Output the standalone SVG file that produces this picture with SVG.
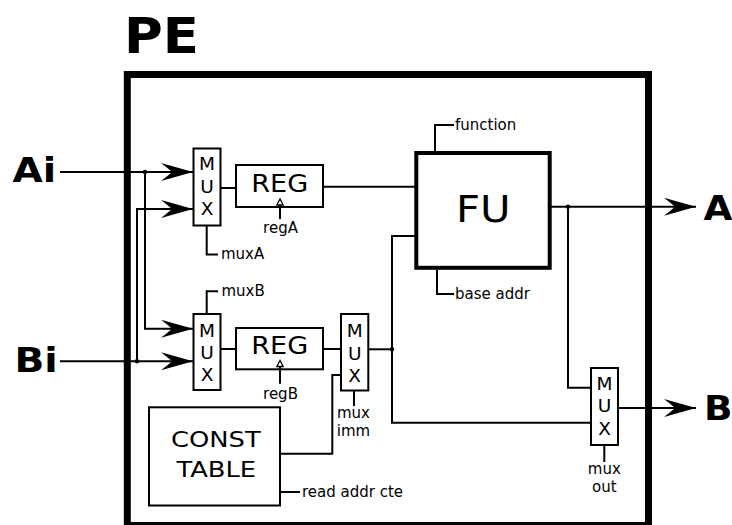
<svg xmlns="http://www.w3.org/2000/svg" width="732" height="525" viewBox="0 0 732 525">
<defs>
<style>
.ln{fill:none;stroke:#000;stroke-width:2}
.bx{fill:#fff;stroke:#000;stroke-width:2}
.t{font-family:"DejaVu Sans","Liberation Sans",sans-serif;fill:#000}
.s{font-size:15px}
.mx{font-size:18.5px;text-anchor:middle}
.big{font-weight:bold;font-size:34px}
.dot{fill:#000}
</style>
<marker id="arr" viewBox="-34 -10 35 20" markerWidth="35" markerHeight="20" refX="0" refY="0" orient="auto" markerUnits="userSpaceOnUse">
<path d="M0,0 L-32,-9 Q-23,-2 -21,0 Q-23,2 -32,9 Z" fill="#000"/>
</marker>
</defs>
<rect width="732" height="525" fill="#fff"/>

<g id="pe-frame">
<text class="t" transform="translate(124,53) scale(1.08,1)" style="font-weight:bold;font-size:49px">PE</text>
<rect x="127.3" y="74.5" width="521.2" height="451" fill="none" stroke="#000" stroke-width="7"/>
</g>

<g id="connectors">
<line class="ln" x1="60" y1="172" x2="193" y2="172" marker-end="url(#arr)"/>
<polyline class="ln" points="145,172 145,328.7 193,328.7" marker-end="url(#arr)"/>
<line class="ln" x1="60" y1="361.3" x2="193" y2="361.3" marker-end="url(#arr)"/>
<polyline class="ln" points="137,361.3 137,209 193,209" marker-end="url(#arr)"/>
<circle class="dot" cx="145" cy="172" r="2.2"/>
<circle class="dot" cx="137" cy="361.3" r="2.2"/>
<line class="ln" x1="220.5" y1="188" x2="236" y2="188"/>
<line class="ln" x1="323" y1="186.7" x2="416" y2="186.7"/>
<line class="ln" x1="220.5" y1="349" x2="236" y2="349"/>
<line class="ln" x1="323" y1="349" x2="341" y2="349"/>
<polyline class="ln" points="280,453.7 332.3,453.7 332.3,375 341,375"/>
<line class="ln" x1="368.3" y1="349.3" x2="392" y2="349.3"/>
<polyline class="ln" points="416,236 392,236 392,422.7 591,422.7"/>
<circle class="dot" cx="392" cy="349.3" r="2.2"/>
<line class="ln" x1="551" y1="206.7" x2="696" y2="206.7" marker-end="url(#arr)"/>
<polyline class="ln" points="568,206.7 568,387.7 591,387.7"/>
<circle class="dot" cx="568" cy="206.7" r="2.2"/>
<line class="ln" x1="618" y1="408" x2="696" y2="408" marker-end="url(#arr)"/>
</g>

<g id="port-ai"><text class="t big" transform="translate(12.5,182) scale(1.15,1)">Ai</text></g>
<g id="port-bi"><text class="t big" transform="translate(14.5,372) scale(1.15,1)">Bi</text></g>
<g id="port-a"><text class="t big" transform="translate(703.5,220) scale(1.1,1)">A</text></g>
<g id="port-b"><text class="t big" transform="translate(704,420.3) scale(1.1,1)">B</text></g>

<g id="mux-a">
<rect class="bx" x="193.5" y="148.5" width="27" height="77"/>
<text class="t mx" x="207" y="170">M</text>
<text class="t mx" x="207" y="193">U</text>
<text class="t mx" x="207" y="215">X</text>
<polyline class="ln" points="206.7,225.5 206.7,254.5 218,254.5"/>
<text class="t s" x="221" y="259">muxA</text>
</g>

<g id="reg-a">
<rect class="bx" x="236" y="165" width="87" height="42"/>
<text class="t" transform="translate(279.7,192.3) scale(1.13,1)" style="font-size:24px;text-anchor:middle">REG</text>
<line class="ln" x1="280" y1="219" x2="280" y2="205"/>
<polygon points="280,199 276.8,205 283.2,205" fill="#fff" stroke="#000" stroke-width="1.3"/>
<text class="t s" x="280.5" y="233" text-anchor="middle">regA</text>
</g>

<g id="mux-b">
<rect class="bx" x="193.5" y="314" width="27" height="76"/>
<text class="t mx" x="207" y="337">M</text>
<text class="t mx" x="207" y="359">U</text>
<text class="t mx" x="207" y="380.5">X</text>
<polyline class="ln" points="206.7,314 206.7,291.3 218,291.3"/>
<text class="t s" x="221.5" y="295.5">muxB</text>
</g>

<g id="reg-b">
<rect class="bx" x="236" y="328" width="87" height="41.3"/>
<text class="t" transform="translate(279.7,353.7) scale(1.13,1)" style="font-size:24px;text-anchor:middle">REG</text>
<line class="ln" x1="280" y1="383.7" x2="280" y2="367"/>
<polygon points="280,360.5 276.8,366.5 283.2,366.5" fill="#fff" stroke="#000" stroke-width="1.3"/>
<text class="t s" x="280.5" y="399" text-anchor="middle">regB</text>
</g>

<g id="mux-imm">
<rect class="bx" x="341" y="314" width="27.3" height="76.5"/>
<text class="t mx" x="354.7" y="337.3">M</text>
<text class="t mx" x="354.7" y="360">U</text>
<text class="t mx" x="354.7" y="381.7">X</text>
<line class="ln" x1="354" y1="390.5" x2="354" y2="406"/>
<text class="t s" x="353.5" y="417.5" text-anchor="middle">mux</text>
<text class="t s" x="353.5" y="435.5" text-anchor="middle">imm</text>
</g>

<g id="const-table">
<rect class="bx" x="149" y="407.3" width="131" height="98.2"/>
<text class="t" transform="translate(215.8,446.7) scale(1.2,1)" style="font-size:21.5px;text-anchor:middle">CONST</text>
<text class="t" transform="translate(216.3,477.3) scale(1.2,1)" style="font-size:21.5px;text-anchor:middle">TABLE</text>
<line class="ln" x1="280" y1="492" x2="300" y2="492"/>
<text class="t s" x="302" y="497">read addr cte</text>
</g>

<g id="fu">
<rect x="416.3" y="153" width="133.4" height="114.8" fill="#fff" stroke="#000" stroke-width="4"/>
<text class="t" transform="translate(483.3,221.7) scale(1.13,1)" style="font-size:37px;text-anchor:middle">FU</text>
<polyline class="ln" points="435,151 435,125 454,125"/>
<text class="t s" x="455" y="130">function</text>
<polyline class="ln" points="437,270 437,294 454,294"/>
<text class="t s" x="455" y="298.5">base addr</text>
</g>

<g id="mux-out">
<rect class="bx" x="591" y="368" width="27" height="77"/>
<text class="t mx" x="604.5" y="390">M</text>
<text class="t mx" x="604.5" y="412">U</text>
<text class="t mx" x="604.5" y="435">X</text>
<line class="ln" x1="604.3" y1="445" x2="604.3" y2="462"/>
<text class="t s" x="604.3" y="474" text-anchor="middle">mux</text>
<text class="t s" x="604.3" y="492" text-anchor="middle">out</text>
</g>
</svg>
